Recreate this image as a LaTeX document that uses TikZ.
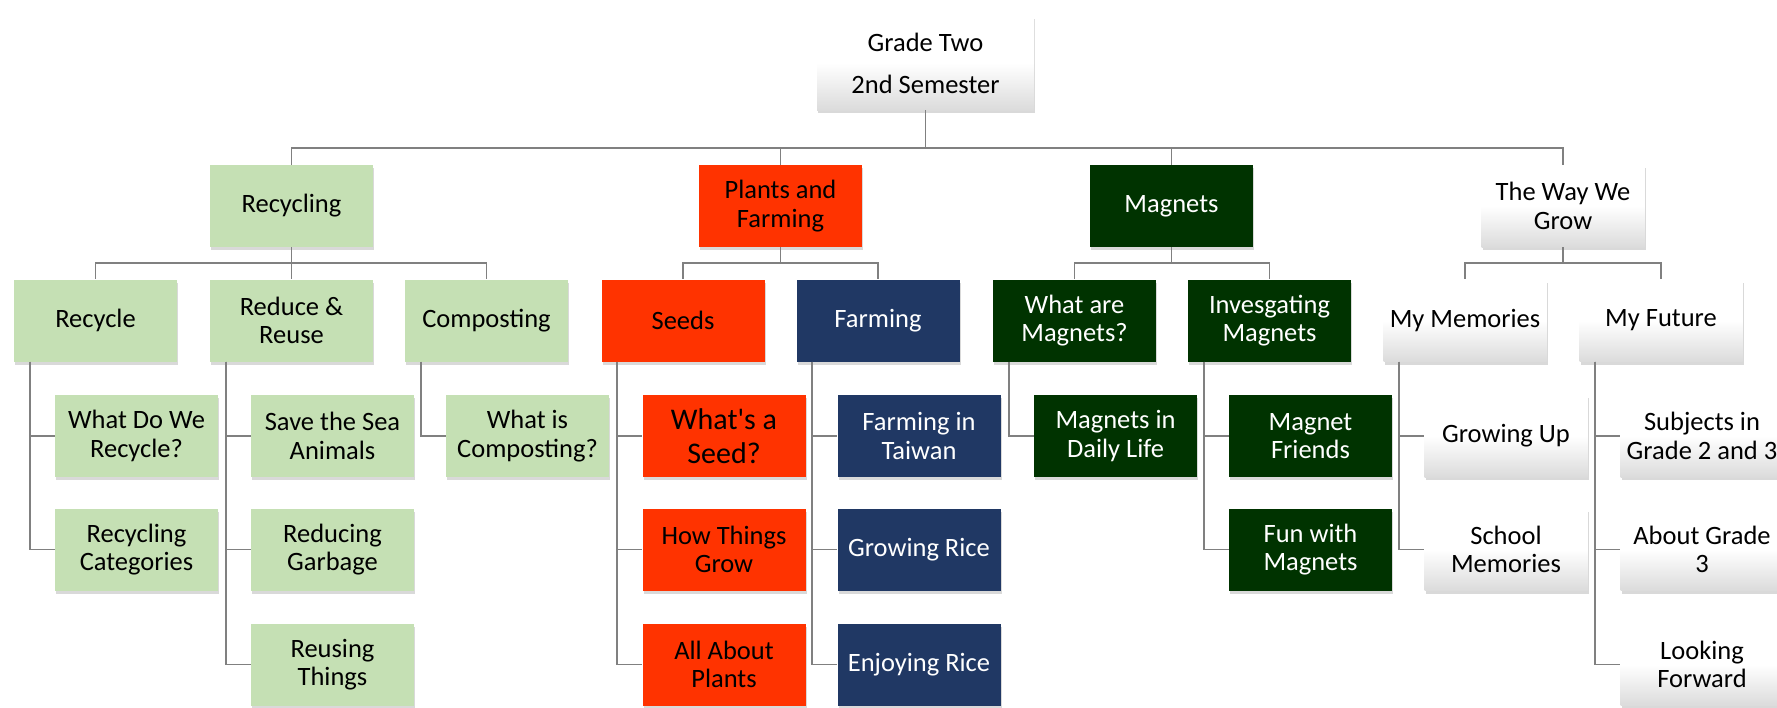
\documentclass[tikz,border=0pt]{standalone}
\usepackage{fontspec}
\setmainfont{Carlito}[Ligatures=TeXOff]
\usepackage{xcolor}
\definecolor{leaf-green}{HTML}{C5E0B4}
\definecolor{seed-red}{HTML}{FF3300}
\definecolor{farm-blue}{HTML}{203864}
\definecolor{magnet-green}{HTML}{003300}
\definecolor{link-gray}{HTML}{808080}
\usepackage{tikz}
\usetikzlibrary{shadows}

\tikzset{
    box/.style={minimum width=163pt, minimum height=82pt, inner sep=2pt, align=center,
                font=\fontsize{26.5}{28.5}\selectfont,
                drop shadow={shadow xshift=1pt, shadow yshift=-3pt, opacity=0.3}},
    greenbox/.style={box, fill=leaf-green, text=black},
    redbox/.style={box, fill=seed-red, text=black},
    bluebox/.style={box, fill=farm-blue, text=white},
    darkbox/.style={box, fill=magnet-green, text=white},
    whitebox/.style={box, top color=white, bottom color=black!14, middle color=white, text=black},
    link/.style={draw=link-gray, line width=1.8pt}
}

\begin{document}
\begin{tikzpicture}[x=1pt, y=-1pt]

    % Page
    \useasboundingbox (0, 0) rectangle (1777, 707);

    % Top
    \node[whitebox, minimum width=217pt, minimum height=94pt] (grade) at (925.5, 63) {Grade Two\\[13.5pt]2nd Semester};

    % Units
    \node[greenbox] (recycling) at (291.5, 206) {Recycling};
    \node[redbox]   (plants)    at (780.5, 206) {Plants and\\Farming};
    \node[darkbox]  (magnets)   at (1171.5, 206) {Magnets};
    \node[whitebox] (grow)      at (1563, 206) {The Way We\\Grow};

    % Topics
    \node[greenbox] (recycle)  at (95.5, 320.5) {Recycle};
    \node[greenbox] (reduce)   at (291.5, 320.5) {Reduce \&\\Reuse};
    \node[greenbox] (compost)  at (486.5, 320.5) {Composting};
    \node[redbox]   (seeds)    at (683, 320.5) {Seeds};
    \node[bluebox]  (farming)  at (878, 320.5) {Farming};
    \node[darkbox]  (whatmag)  at (1074.5, 320.5) {What are\\Magnets?};
    \node[darkbox]  (testmag)  at (1269.5, 320.5) {Invesgating\\Magnets};
    \node[whitebox] (memories) at (1465, 320.5) {My Memories};
    \node[whitebox] (future)   at (1661, 320.5) {My Future};

    % Lessons
    \node[greenbox] (recycle-a) at (136.5, 436) {What Do We\\Recycle?};
    \node[greenbox] (recycle-b) at (136.5, 549.5) {Recycling\\Categories};
    \node[greenbox] (reduce-a)  at (332.5, 436) {Save the Sea\\Animals};
    \node[greenbox] (reduce-b)  at (332.5, 549.5) {Reducing\\Garbage};
    \node[greenbox] (reduce-c)  at (332.5, 664.5) {Reusing\\Things};
    \node[greenbox] (compost-a) at (527.5, 436) {What is\\Composting?};

    \node[redbox, font=\fontsize{30}{34}\selectfont] (seeds-a) at (724, 436) {What's a\\Seed?};
    \node[redbox]   (seeds-b)   at (724, 549.5) {How Things\\Grow};
    \node[redbox]   (seeds-c)   at (724, 664.5) {All About\\Plants};
    \node[bluebox]  (farming-a) at (919, 436) {Farming in\\Taiwan};
    \node[bluebox]  (farming-b) at (919, 549.5) {Growing Rice};
    \node[bluebox]  (farming-c) at (919, 664.5) {Enjoying Rice};

    \node[darkbox]  (whatmag-a) at (1115.5, 436) {Magnets in\\Daily Life};
    \node[darkbox]  (testmag-a) at (1310.5, 436) {Magnet\\Friends};
    \node[darkbox]  (testmag-b) at (1310.5, 549.5) {Fun with\\Magnets};

    \node[whitebox] (memories-a) at (1506, 436) {Growing Up};
    \node[whitebox] (memories-b) at (1506, 549.5) {School\\Memories};
    \node[whitebox] (future-a)   at (1702, 436) {Subjects in\\Grade 2 and 3};
    \node[whitebox] (future-b)   at (1702, 549.5) {About Grade\\3};
    \node[whitebox] (future-c)   at (1702, 664.5) {Looking\\Forward};

    % Links down from the top
    \foreach \unit in {recycling, plants, magnets, grow}
        \draw[link] (grade.south) -- ++(0, 38) -| (\unit.north);

    % Links to topics
    \foreach \unit/\topic in {recycling/recycle, recycling/reduce, recycling/compost,
                              plants/seeds, plants/farming, magnets/whatmag, magnets/testmag,
                              grow/memories, grow/future}
        \draw[link] (\unit.south) -- ++(0, 16) -| (\topic.north);

    % Links to lessons
    \foreach \topic/\lesson in {recycle/recycle-a, recycle/recycle-b,
                                reduce/reduce-a, reduce/reduce-b, reduce/reduce-c,
                                compost/compost-a,
                                seeds/seeds-a, seeds/seeds-b, seeds/seeds-c,
                                farming/farming-a, farming/farming-b, farming/farming-c,
                                whatmag/whatmag-a, testmag/testmag-a, testmag/testmag-b,
                                memories/memories-a, memories/memories-b,
                                future/future-a, future/future-b, future/future-c}
        \draw[link] ([xshift=16pt]\topic.south west) |- (\lesson.west);

\end{tikzpicture}
\end{document}
